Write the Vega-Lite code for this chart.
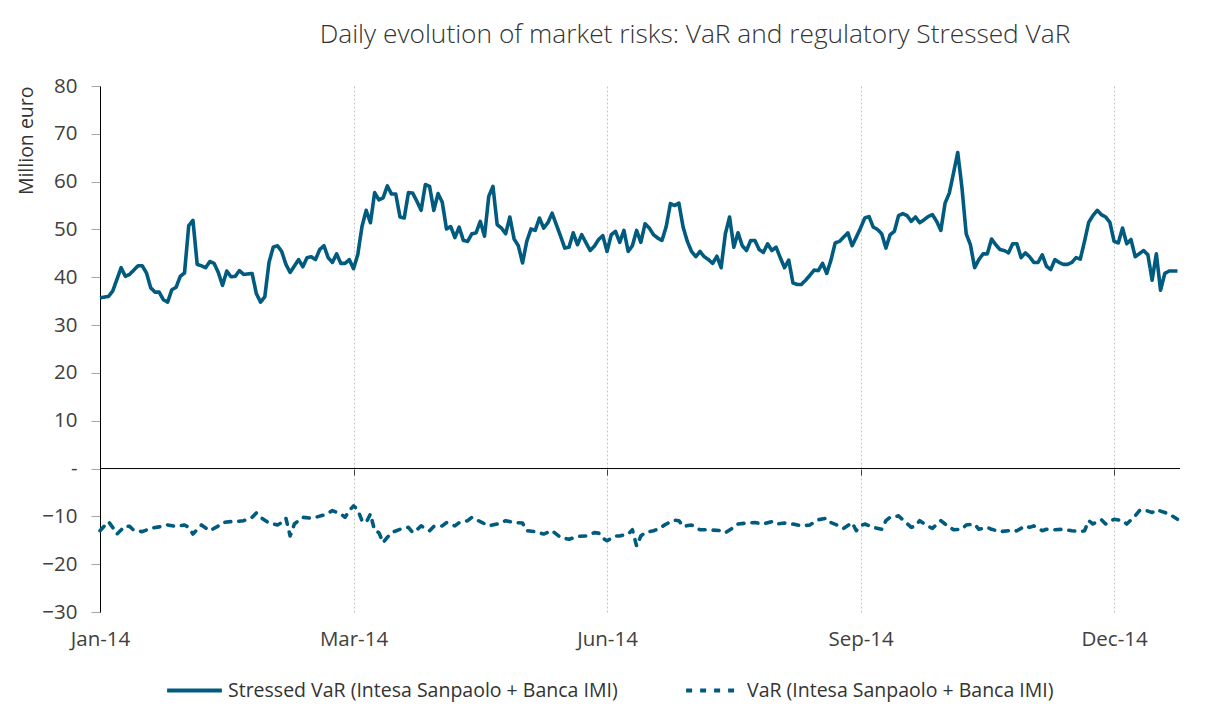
{
  "$schema": "https://vega.github.io/schema/vega-lite/v6.json",
  "width": 1080,
  "height": 526,
  "autosize": {"type": "none"},
  "padding": {"left": 100, "top": 86, "right": 28, "bottom": 115},
  "background": "white",
  "config": {"view": {"stroke": null}, "font": "Open Sans"},
  "title": {
    "text": "Daily evolution of market risks: VaR and regulatory Stressed VaR",
    "font": "Open Sans", "fontSize": 26.3, "fontWeight": 300, "color": "#333333",
    "anchor": "middle", "frame": "group", "dx": 55, "offset": 28
  },
  "datasets": {
    "svar": [
      {"t":0,"v":35.7},{"t":2,"v":36.0},{"t":3,"v":37.1},{"t":5,"v":42.0},{"t":6,"v":40.2},{"t":7,"v":40.6},{"t":9,"v":42.4},{"t":10,"v":42.4},{"t":11,"v":40.9},{"t":12,"v":37.8},{"t":13,"v":36.9},{"t":14,"v":36.9},{"t":15,"v":35.3},{"t":16,"v":34.8},{"t":17,"v":37.4},{"t":18,"v":37.9},{"t":19,"v":40.2},{"t":20,"v":40.9},{"t":21,"v":50.8},{"t":22,"v":51.9},{"t":23,"v":42.7},{"t":24,"v":42.4},{"t":25,"v":42.0},{"t":26,"v":43.3},{"t":27,"v":42.9},{"t":28,"v":41.0},{"t":29,"v":38.3},{"t":30,"v":41.3},{"t":31,"v":40.1},{"t":32,"v":40.2},{"t":33,"v":41.4},{"t":34,"v":40.6},{"t":36,"v":40.8},{"t":37,"v":36.6},{"t":38,"v":34.8},{"t":39,"v":35.9},{"t":40,"v":43.1},{"t":41,"v":46.3},{"t":42,"v":46.6},{"t":43,"v":45.4},{"t":44,"v":42.7},{"t":45,"v":41.0},{"t":47,"v":43.7},{"t":48,"v":42.2},{"t":49,"v":44.1},{"t":50,"v":44.3},{"t":51,"v":43.7},{"t":52,"v":45.8},{"t":53,"v":46.6},{"t":54,"v":44.1},{"t":55,"v":43.1},{"t":56,"v":44.9},{"t":57,"v":42.9},{"t":58,"v":42.9},{"t":59,"v":43.7},{"t":60,"v":41.8},
      {"t":61,"v":44.7},{"t":62,"v":50.6},{"t":63,"v":54.0},{"t":64,"v":51.4},{"t":65,"v":57.7},{"t":66,"v":56.2},{"t":67,"v":56.6},{"t":68,"v":59.1},{"t":69,"v":57.4},{"t":70,"v":57.4},{"t":71,"v":52.6},{"t":72,"v":52.4},{"t":73,"v":57.7},{"t":74,"v":57.6},{"t":75,"v":55.9},{"t":76,"v":54.0},{"t":77,"v":59.4},{"t":78,"v":59.0},{"t":79,"v":54.0},{"t":80,"v":57.5},{"t":81,"v":55.7},{"t":82,"v":50.1},{"t":83,"v":50.6},{"t":84,"v":48.3},{"t":85,"v":50.5},{"t":86,"v":47.7},{"t":87,"v":47.5},{"t":88,"v":49.1},{"t":89,"v":49.3},{"t":90,"v":51.7},{"t":91,"v":48.6},{"t":92,"v":56.9},{"t":93,"v":59.0},{"t":94,"v":51.0},{"t":95,"v":50.3},{"t":96,"v":49.1},{"t":97,"v":52.6},{"t":98,"v":48.0},{"t":99,"v":46.6},{"t":100,"v":43.0},{"t":101,"v":47.5},{"t":102,"v":50.1},{"t":103,"v":49.8},{"t":104,"v":52.4},{"t":105,"v":50.3},{"t":106,"v":51.4},{"t":107,"v":53.4},{"t":108,"v":51.0},{"t":109,"v":48.6},{"t":110,"v":46.1},{"t":111,"v":46.3},{"t":112,"v":49.3},{"t":113,"v":46.8},{"t":114,"v":48.9},{"t":116,"v":45.6},{"t":117,"v":46.5},{"t":118,"v":47.9},{"t":119,"v":48.7},{"t":120,"v":45.4},
      {"t":121,"v":48.9},{"t":122,"v":49.6},{"t":123,"v":47.3},{"t":124,"v":49.8},{"t":125,"v":45.4},{"t":126,"v":46.6},{"t":127,"v":49.8},{"t":128,"v":47.3},{"t":129,"v":51.2},{"t":130,"v":50.3},{"t":131,"v":48.9},{"t":132,"v":48.2},{"t":133,"v":47.7},{"t":134,"v":50.6},{"t":135,"v":55.4},{"t":136,"v":55.0},{"t":137,"v":55.5},{"t":138,"v":50.5},{"t":139,"v":47.5},{"t":140,"v":45.4},{"t":141,"v":44.3},{"t":142,"v":45.4},{"t":143,"v":44.3},{"t":144,"v":43.7},{"t":145,"v":42.9},{"t":146,"v":44.4},{"t":147,"v":42.0},{"t":148,"v":49.1},{"t":149,"v":52.6},{"t":150,"v":46.3},{"t":151,"v":49.3},{"t":152,"v":46.6},{"t":153,"v":45.6},{"t":154,"v":47.7},{"t":155,"v":47.7},{"t":156,"v":45.8},{"t":157,"v":45.2},{"t":158,"v":47.0},{"t":159,"v":45.6},{"t":160,"v":46.3},{"t":161,"v":44.1},{"t":162,"v":42.0},{"t":163,"v":43.6},{"t":164,"v":38.8},{"t":165,"v":38.5},{"t":166,"v":38.5},{"t":167,"v":39.4},{"t":168,"v":40.4},{"t":169,"v":41.5},{"t":170,"v":41.4},{"t":171,"v":42.9},{"t":172,"v":40.8},{"t":173,"v":43.6},{"t":174,"v":47.2},{"t":175,"v":47.5},{"t":177,"v":49.3},{"t":178,"v":46.6},{"t":179,"v":48.4},{"t":180,"v":50.3},
      {"t":181,"v":52.4},{"t":182,"v":52.7},{"t":183,"v":50.5},{"t":184,"v":50.0},{"t":185,"v":49.1},{"t":186,"v":46.1},{"t":187,"v":48.9},{"t":188,"v":49.6},{"t":189,"v":52.9},{"t":190,"v":53.3},{"t":191,"v":52.9},{"t":192,"v":51.7},{"t":193,"v":52.6},{"t":194,"v":51.4},{"t":195,"v":52.0},{"t":196,"v":52.7},{"t":197,"v":53.1},{"t":198,"v":51.7},{"t":199,"v":49.8},{"t":200,"v":55.5},{"t":201,"v":57.6},{"t":202,"v":61.8},{"t":203,"v":66.1},{"t":204,"v":58.7},{"t":205,"v":49.1},{"t":206,"v":46.8},{"t":207,"v":42.0},{"t":208,"v":43.7},{"t":209,"v":44.9},{"t":210,"v":44.9},{"t":211,"v":48.0},{"t":212,"v":46.8},{"t":213,"v":45.8},{"t":214,"v":45.6},{"t":215,"v":45.1},{"t":216,"v":47.0},{"t":217,"v":47.0},{"t":218,"v":44.1},{"t":219,"v":45.1},{"t":220,"v":44.3},{"t":221,"v":43.1},{"t":222,"v":43.1},{"t":223,"v":44.7},{"t":224,"v":42.3},{"t":225,"v":41.6},{"t":226,"v":43.7},{"t":227,"v":43.1},{"t":228,"v":42.7},{"t":229,"v":42.7},{"t":230,"v":43.1},{"t":231,"v":44.1},{"t":232,"v":43.8},{"t":233,"v":47.5},{"t":234,"v":51.5},{"t":235,"v":52.9},{"t":236,"v":54.0},{"t":237,"v":53.1},{"t":238,"v":52.6},{"t":239,"v":51.5},{"t":240,"v":47.5},
      {"t":241,"v":47.2},{"t":242,"v":50.3},{"t":243,"v":47.0},{"t":244,"v":47.9},{"t":245,"v":44.3},{"t":247,"v":45.6},{"t":248,"v":44.7},{"t":249,"v":39.4},{"t":250,"v":44.9},{"t":251,"v":37.3},{"t":252,"v":40.8},{"t":253,"v":41.3},{"t":254,"v":41.3},{"t":255,"v":41.3}
    ],
    "var": [
      {"t":0,"v":-13.0},{"t":2,"v":-11.1},{"t":3,"v":-12.3},{"t":4,"v":-13.7},{"t":6,"v":-12.0},{"t":7,"v":-12.1},{"t":8,"v":-12.9},{"t":10,"v":-13.2},{"t":12,"v":-12.5},{"t":14,"v":-12.2},{"t":16,"v":-11.8},{"t":18,"v":-12.1},{"t":20,"v":-11.8},{"t":21,"v":-12.3},{"t":22,"v":-13.7},{"t":24,"v":-11.8},{"t":26,"v":-13.0},{"t":28,"v":-12.0},{"t":29,"v":-11.3},{"t":31,"v":-11.1},{"t":32,"v":-11.1},{"t":34,"v":-10.9},{"t":36,"v":-10.2},{"t":37,"v":-9.3},{"t":38,"v":-10.2},{"t":40,"v":-11.4},{"t":42,"v":-11.8},{"t":43,"v":-11.3},{"t":44,"v":-10.4},{"t":45,"v":-14.1},{"t":46,"v":-11.6},{"t":47,"v":-10.9},{"t":48,"v":-10.2},{"t":50,"v":-10.4},{"t":51,"v":-10.2},{"t":53,"v":-9.7},{"t":54,"v":-9.3},{"t":55,"v":-8.8},{"t":57,"v":-9.5},{"t":58,"v":-10.2},{"t":59,"v":-8.8},{"t":60,"v":-7.8},
      {"t":61,"v":-8.6},{"t":62,"v":-10.9},{"t":63,"v":-11.3},{"t":64,"v":-9.5},{"t":65,"v":-13.0},{"t":66,"v":-13.4},{"t":67,"v":-15.5},{"t":68,"v":-14.4},{"t":69,"v":-13.4},{"t":71,"v":-12.7},{"t":73,"v":-12.3},{"t":74,"v":-13.4},{"t":75,"v":-12.8},{"t":76,"v":-12.0},{"t":78,"v":-13.0},{"t":79,"v":-12.1},{"t":81,"v":-12.0},{"t":82,"v":-11.3},{"t":84,"v":-12.0},{"t":85,"v":-11.3},{"t":87,"v":-10.9},{"t":88,"v":-10.2},{"t":90,"v":-11.1},{"t":92,"v":-12.0},{"t":94,"v":-11.6},{"t":96,"v":-10.9},{"t":98,"v":-11.3},{"t":100,"v":-11.4},{"t":101,"v":-13.0},{"t":103,"v":-13.2},{"t":105,"v":-13.7},{"t":107,"v":-13.0},{"t":109,"v":-14.4},{"t":111,"v":-14.8},{"t":113,"v":-14.2},{"t":115,"v":-14.1},{"t":117,"v":-13.4},{"t":118,"v":-13.5},{"t":119,"v":-14.6},{"t":120,"v":-15.1},
      {"t":122,"v":-14.1},{"t":123,"v":-14.1},{"t":125,"v":-13.7},{"t":126,"v":-12.8},{"t":127,"v":-16.2},{"t":128,"v":-14.1},{"t":129,"v":-13.4},{"t":131,"v":-13.0},{"t":132,"v":-12.7},{"t":134,"v":-11.6},{"t":136,"v":-10.8},{"t":137,"v":-10.9},{"t":138,"v":-12.1},{"t":140,"v":-11.8},{"t":142,"v":-12.8},{"t":144,"v":-12.8},{"t":147,"v":-13.0},{"t":148,"v":-13.4},{"t":150,"v":-12.3},{"t":151,"v":-11.6},{"t":153,"v":-11.4},{"t":155,"v":-11.3},{"t":157,"v":-11.6},{"t":159,"v":-11.1},{"t":160,"v":-11.6},{"t":162,"v":-11.4},{"t":164,"v":-11.6},{"t":166,"v":-12.0},{"t":168,"v":-11.8},{"t":170,"v":-10.7},{"t":172,"v":-10.4},{"t":173,"v":-11.3},{"t":175,"v":-12.0},{"t":176,"v":-12.5},{"t":178,"v":-11.3},{"t":179,"v":-13.0},{"t":180,"v":-12.0},
      {"t":181,"v":-11.6},{"t":183,"v":-12.3},{"t":185,"v":-12.7},{"t":186,"v":-10.9},{"t":187,"v":-10.2},{"t":189,"v":-9.9},{"t":190,"v":-10.7},{"t":192,"v":-12.3},{"t":193,"v":-12.0},{"t":194,"v":-10.9},{"t":196,"v":-12.1},{"t":197,"v":-12.5},{"t":199,"v":-10.9},{"t":200,"v":-11.6},{"t":202,"v":-12.8},{"t":204,"v":-12.7},{"t":205,"v":-11.8},{"t":207,"v":-11.6},{"t":208,"v":-12.7},{"t":210,"v":-12.3},{"t":211,"v":-12.7},{"t":213,"v":-13.2},{"t":215,"v":-13.0},{"t":216,"v":-13.2},{"t":217,"v":-13.0},{"t":219,"v":-12.0},{"t":220,"v":-12.3},{"t":221,"v":-12.0},{"t":223,"v":-13.0},{"t":224,"v":-12.7},{"t":226,"v":-12.8},{"t":228,"v":-12.7},{"t":230,"v":-13.0},{"t":232,"v":-13.2},{"t":233,"v":-13.0},{"t":234,"v":-10.9},{"t":235,"v":-11.6},{"t":237,"v":-10.7},{"t":238,"v":-11.6},{"t":240,"v":-10.6},
      {"t":242,"v":-10.9},{"t":243,"v":-11.6},{"t":245,"v":-9.9},{"t":246,"v":-8.8},{"t":247,"v":-8.6},{"t":249,"v":-9.2},{"t":250,"v":-8.6},{"t":252,"v":-9.2},{"t":253,"v":-9.5},{"t":255,"v":-10.6}
    ]
  },
  "layer": [
    {
      "data": {"name": "svar"},
      "mark": {"type": "line", "strokeWidth": 3.6, "strokeJoin": "round"},
      "encoding": {
        "x": {
          "field": "t", "type": "quantitative",
          "scale": {"domain": [0, 255.6], "nice": false, "zero": false},
          "axis": {
            "values": [0, 60, 120, 180, 240],
            "labelExpr": "datum.value == 0 ? 'Jan-14' : datum.value == 60 ? 'Mar-14' : datum.value == 120 ? 'Jun-14' : datum.value == 180 ? 'Sep-14' : 'Dec-14'",
            "title": null,
            "grid": true, "gridColor": "#c4c4c4", "gridDash": [2, 2], "gridWidth": 1,
            "domain": false,
            "ticks": true, "tickSize": 6, "tickColor": "#404040",
            "offset": -143,
            "labelPadding": 154, "labelFontSize": 20.5, "labelFont": "Open Sans", "labelColor": "#404040",
            "labelFlush": false, "labelOverlap": false
          }
        },
        "y": {
          "field": "v", "type": "quantitative",
          "scale": {"domain": [-30, 80], "nice": false, "zero": false},
          "axis": {
            "values": [-30, -20, -10, 0, 10, 20, 30, 40, 50, 60, 70, 80],
            "labelExpr": "datum.value == 0 ? '-\u2007' : datum.label",
            "grid": false,
            "domainColor": "#000000", "domainWidth": 1,
            "tickColor": "#a6a6a6", "tickSize": 9,
            "labelPadding": 14, "labelFontSize": 20.5, "labelFont": "Open Sans", "labelColor": "#404040",
            "title": "Million euro", "titleFont": "Open Sans", "titleFontSize": 19.5, "titleFontWeight": "normal",
            "titleColor": "#333333", "titleAnchor": "end", "titlePadding": 5
          }
        },
        "color": {
          "datum": "Stressed VaR (Intesa Sanpaolo + Banca IMI)",
          "scale": {"domain": ["Stressed VaR (Intesa Sanpaolo + Banca IMI)", "VaR (Intesa Sanpaolo + Banca IMI)"], "range": ["#005b7f", "#005b7f"]},
          "legend": {
            "title": null, "orient": "none", "legendX": 65, "legendY": 575, "direction": "horizontal",
            "symbolType": "stroke", "symbolSize": 3000, "symbolStrokeWidth": 4,
            "labelFont": "Open Sans", "labelFontSize": 19.5, "labelColor": "#333333", "labelLimit": 700,
            "labelOffset": 4, "columnPadding": 60, "padding": 0
          }
        },
        "strokeDash": {
          "datum": "Stressed VaR (Intesa Sanpaolo + Banca IMI)",
          "scale": {"domain": ["Stressed VaR (Intesa Sanpaolo + Banca IMI)", "VaR (Intesa Sanpaolo + Banca IMI)"], "range": [[1, 0], [6, 8]]}
        }
      }
    },
    {
      "data": {"name": "var"},
      "mark": {"type": "line", "strokeWidth": 3.6, "strokeCap": "round", "strokeJoin": "round"},
      "encoding": {
        "x": {"field": "t", "type": "quantitative"},
        "y": {"field": "v", "type": "quantitative"},
        "color": {"datum": "VaR (Intesa Sanpaolo + Banca IMI)"},
        "strokeDash": {"datum": "VaR (Intesa Sanpaolo + Banca IMI)"}
      }
    },
    {
      "data": {"values": [{}]},
      "mark": {"type": "rule", "color": "#000000", "strokeWidth": 1},
      "encoding": {"y": {"datum": 0}}
    }
  ]
}
